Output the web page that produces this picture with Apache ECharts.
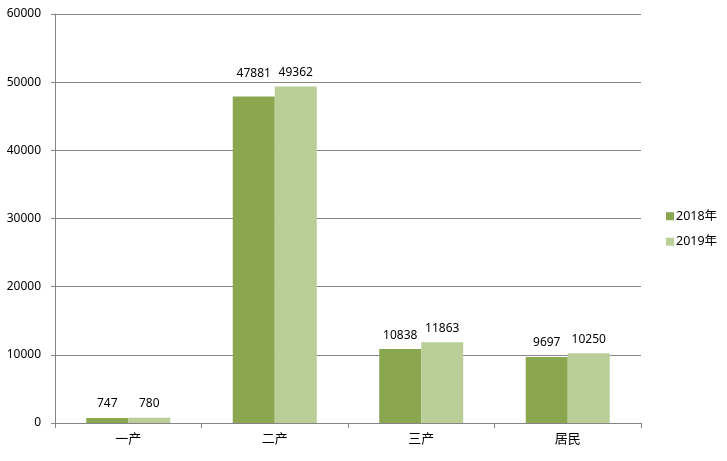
<!DOCTYPE html>
<html><head><meta charset="utf-8">
<script src="https://cdn.jsdelivr.net/npm/echarts@6/dist/echarts.min.js"></script>
<style>html,body{margin:0;padding:0;background:#fff}#c{width:727px;height:461px}</style>
</head><body><div id="c"></div>
<script>
const categories = ['一产', '二产', '三产', '居民'];
const series2018 = [747, 47881, 10838, 9697];
const series2019 = [780, 49362, 11863, 10250];
const seriesNames = ['2018年', '2019年'];
const yTicks = [0, 10000, 20000, 30000, 40000, 50000, 60000];

const font = '"Noto Sans", "Noto Sans CJK SC", sans-serif';
const chart = echarts.init(document.getElementById('c'));
const label = {show: true, position: 'top', distance: 8, color: '#000', fontSize: 12, fontFamily: font};
chart.setOption({
  animation: false,
  grid: {left: 55, right: 86, top: 14, bottom: 38, containLabel: false},
  legend: {
    orient: 'vertical', left: 661, top: 205,
    itemWidth: 8, itemHeight: 8, itemGap: 13, icon: 'rect',
    textStyle: {color: '#000', fontSize: 12.5, fontFamily: font, padding: [0, 0, 0, -3]},
    data: seriesNames
  },
  xAxis: {
    type: 'category', data: categories,
    axisLine: {lineStyle: {color: '#868686'}},
    axisTick: {show: true, length: 5, lineStyle: {color: '#868686'}},
    axisLabel: {color: '#000', fontSize: 13, fontFamily: font, margin: 10}
  },
  yAxis: {
    type: 'value', min: yTicks[0], max: yTicks[yTicks.length - 1], interval: 10000,
    axisLine: {show: true, lineStyle: {color: '#868686'}},
    axisTick: {show: true, length: 4, lineStyle: {color: '#868686'}},
    axisLabel: {color: '#000', fontSize: 12, fontFamily: font, margin: 14, formatter: v => String(v)},
    splitLine: {lineStyle: {color: '#868686'}}
  },
  series: [
    {name: seriesNames[0], type: 'bar', barWidth: 42, barGap: '0%',
     itemStyle: {color: '#8aa64f'},
     data: series2018.map((v, i) => i === 1 ? {value: v, label: {distance: 17}} : v),
     label: label},
    {name: seriesNames[1], type: 'bar', barWidth: 42, barGap: '0%',
     itemStyle: {color: '#bacf97'}, data: series2019, label: label}
  ]
});
</script></body></html>
